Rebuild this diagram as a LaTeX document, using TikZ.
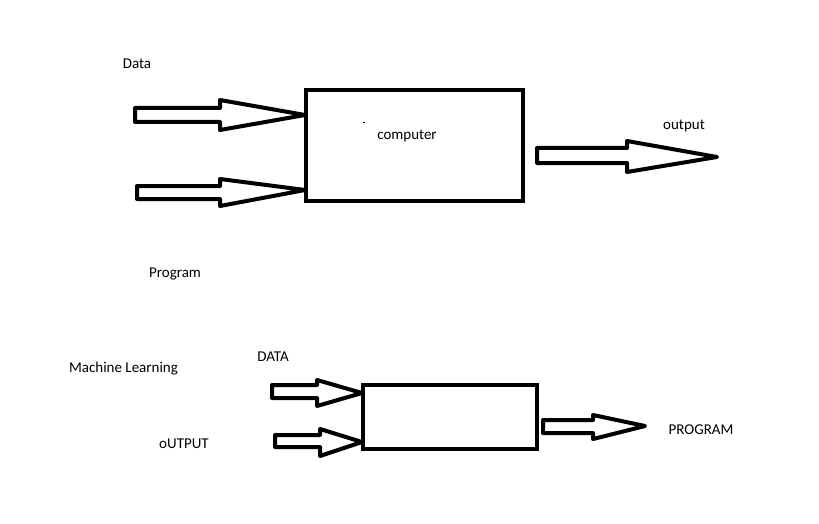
\documentclass[tikz,border=0pt]{standalone}
\usepackage{fontspec}
\setmainfont{Carlito}
\newcommand\blkarrow[8]{%
  \draw[blk] (#1,#2) -- (#4,#2) -- (#4,#5) -- (#7,#8) -- (#4,#6) -- (#4,#3) -- (#1,#3) -- cycle;}
\begin{document}
\begin{tikzpicture}[x=1pt,y=-1pt,
  blk/.style={line width=4pt,line join=round,fill=white},
  boxnode/.style={draw,line width=4pt,inner sep=0pt,outer sep=0pt},
  lbl/.style={font=\fontsize{15}{17}\selectfont,inner sep=0pt}]
\useasboundingbox[fill=white] (0,0) rectangle (819,524);
% top diagram
\node[boxnode,minimum width=217pt,minimum height=111pt] (comp) at (414.5,145.5) {};
\blkarrow{135}{108}{122}{220}{100}{130}{305}{115}
\blkarrow{137}{186}{199}{220}{179}{206}{305}{190}
\blkarrow{537}{148}{163}{627}{141}{172}{717}{157}
\draw[line width=1pt] (363,123) -- (365,123);
\node[lbl] (data) at (137,63.5) {Data};
\node[lbl] (prog) at (175,273.5) {Program};
\node[lbl] (comptxt) at (407,135.5) {computer};
\node[lbl] (out) at (684,125.5) {output};
% bottom diagram
\node[boxnode,minimum width=174pt,minimum height=64pt] (ml) at (450,417) {};
\blkarrow{272}{385}{398}{317}{380}{406}{362}{393}
\blkarrow{275}{435}{447}{320}{429}{456}{362}{442}
\blkarrow{543}{420}{433}{593}{415}{439}{645}{426}
\node[lbl] (mltxt) at (123.5,368.5) {Machine Learning};
\node[lbl] (DATA) at (273,356.5) {DATA};
\node[lbl] (OUT) at (184,443.5) {oUTPUT};
\node[lbl] (PROG) at (701,429.5) {PROGRAM};
\end{tikzpicture}
\end{document}
